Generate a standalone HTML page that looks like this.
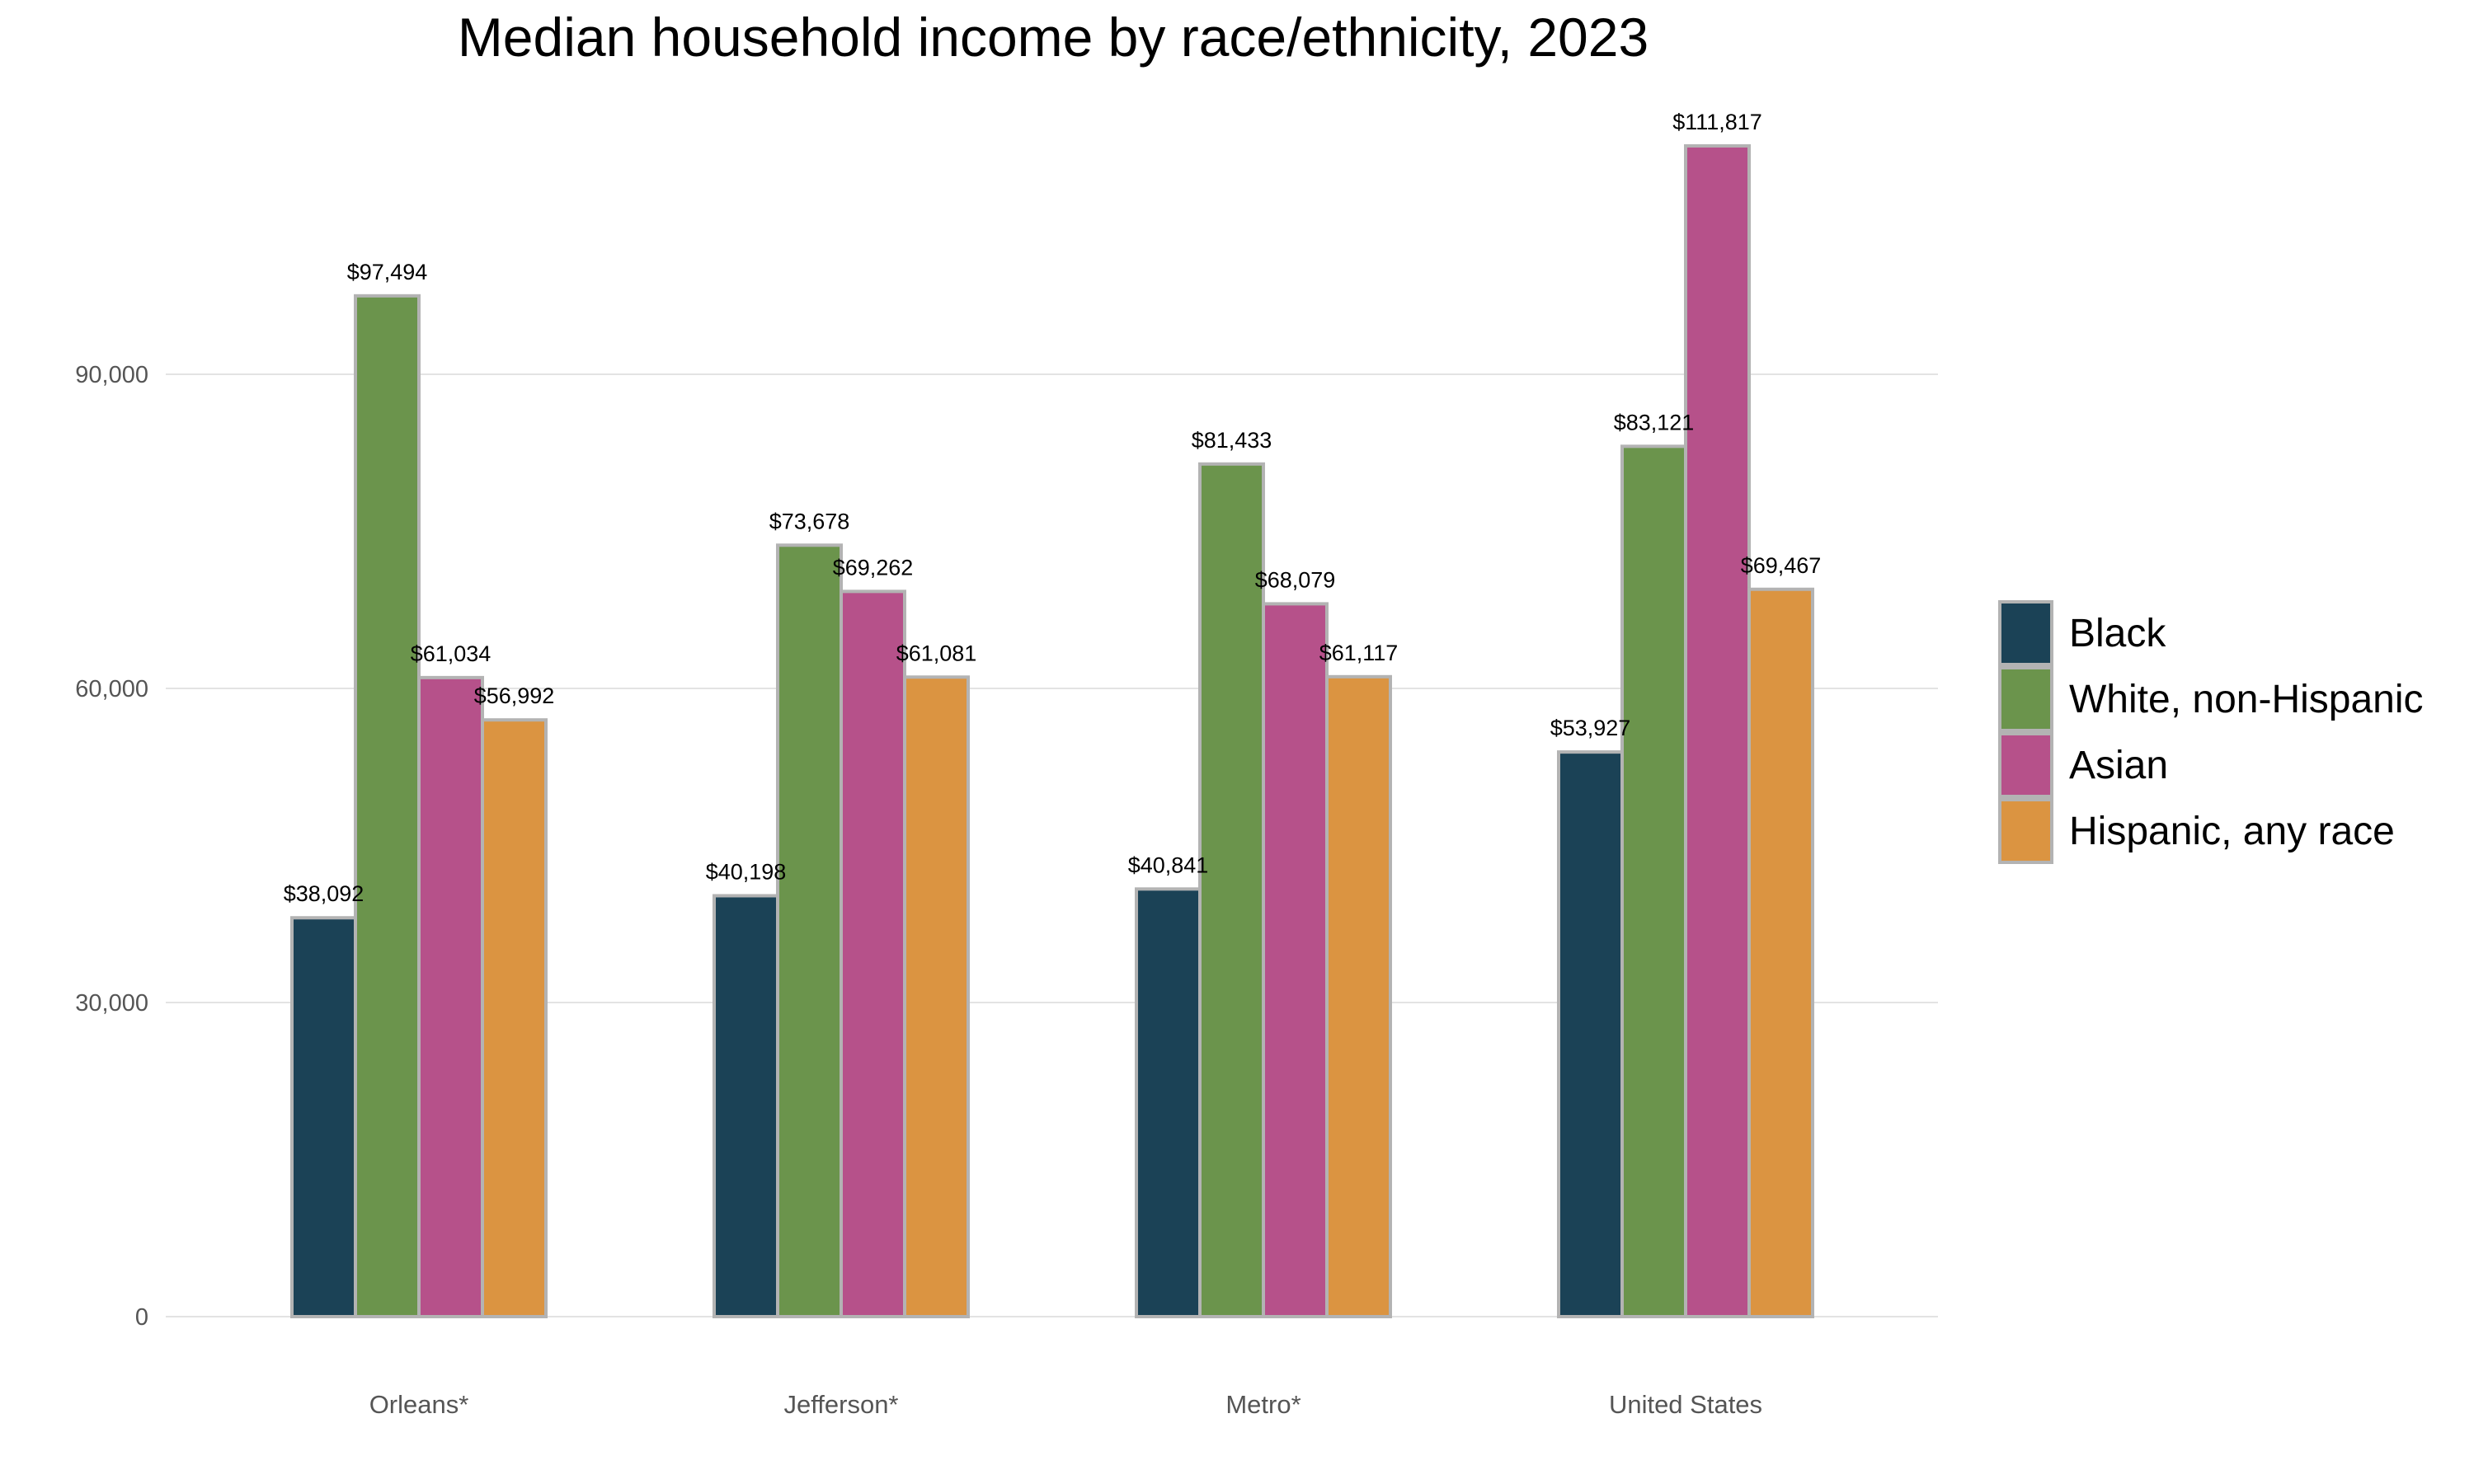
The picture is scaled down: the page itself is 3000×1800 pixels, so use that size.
<!DOCTYPE html>
<html><head><meta charset="utf-8">
<style>
html,body{margin:0;padding:0;background:#fff;}
svg{display:block;font-family:"Liberation Sans Narrow","Liberation Sans",sans-serif;}
</style></head>
<body>
<svg id="chart" width="3000" height="1800" viewBox="0 0 3000 1800" xmlns="http://www.w3.org/2000/svg">
<text x="1277" y="68" text-anchor="middle" font-size="66" fill="#000">Median household income by race/ethnicity, 2023</text>
<g id="grid"></g>
<g id="bars"></g>
<g id="labels"></g>
<g id="xaxis"></g>
<g id="legend"></g>
</svg>
<script>
const categories = ["Orleans*", "Jefferson*", "Metro*", "United States"];
const seriesNames = ["Black", "White, non-Hispanic", "Asian", "Hispanic, any race"];
const black = [38092, 40198, 40841, 53927];
const white = [97494, 73678, 81433, 83121];
const asian = [61034, 69262, 68079, 111817];
const hispanic = [56992, 61081, 61117, 69467];
const yTicks = [0, 30000, 60000, 90000];
const yTickLabels = ["0", "30,000", "60,000", "90,000"];
const colors = ["#1b4256", "#6b944c", "#b6518a", "#db9441"];

const NS = "http://www.w3.org/2000/svg";
const series = [black, white, asian, hispanic];
const plotL = 201, plotR = 2350, y0 = 1597, pxPerUnit = 381/30000;
const y = v => y0 - v * pxPerUnit;
const step = 512, firstC = 508;
const x = i => firstC + i * step;
const barW = 77;
function mk(tag, attrs, parent){const e=document.createElementNS(NS,tag);for(const k in attrs)e.setAttribute(k,attrs[k]);parent.appendChild(e);return e;}
const grid = document.getElementById('grid');
yTicks.forEach((t,i)=>{
  const l = mk('line',{x1:plotL,x2:plotR,y1:y(t),y2:y(t),stroke:'#e3e3e3','stroke-width':2},grid);
  
  
  const tx = mk('text',{x:180,y:y(t)+10,'text-anchor':'end','font-size':29,fill:'#555'},grid);
  tx.textContent = yTickLabels[i];
  
  
});
const bars = document.getElementById('bars'), labels = document.getElementById('labels'), xaxis = document.getElementById('xaxis');
const fmt = v => '$' + v.toLocaleString('en-US');
categories.forEach((c,i)=>{
  const left = x(i) - 2*barW;
  series.forEach((s,j)=>{
    const bx = left + j*barW, by = y(s[i]);
    const r = mk('rect',{x:bx,y:by,width:barW,height:y0-by,fill:colors[j],stroke:'#b3b3b3','stroke-width':4},bars);
    
    
    const t = mk('text',{x:bx+barW/2,y:by-20,'text-anchor':'middle','font-size':27,fill:'#000'},labels);
    t.textContent = fmt(s[i]);
    
    
  });
  const ct = mk('text',{x:x(i),y:1714,'text-anchor':'middle','font-size':31,fill:'#555'},xaxis);
  ct.textContent = c;
  
  
});
const legend = document.getElementById('legend');
seriesNames.forEach((n,j)=>{
  const ky = 728 + j*80;
  const r = mk('rect',{x:2425,y:ky+2,width:63,height:76,fill:colors[j],stroke:'#b3b3b3','stroke-width':4},legend);
  
  
  const t = mk('text',{x:2509,y:ky+56,'font-size':48,fill:'#000'},legend);
  t.textContent = n;
  
  
});
</script>
</body></html>
